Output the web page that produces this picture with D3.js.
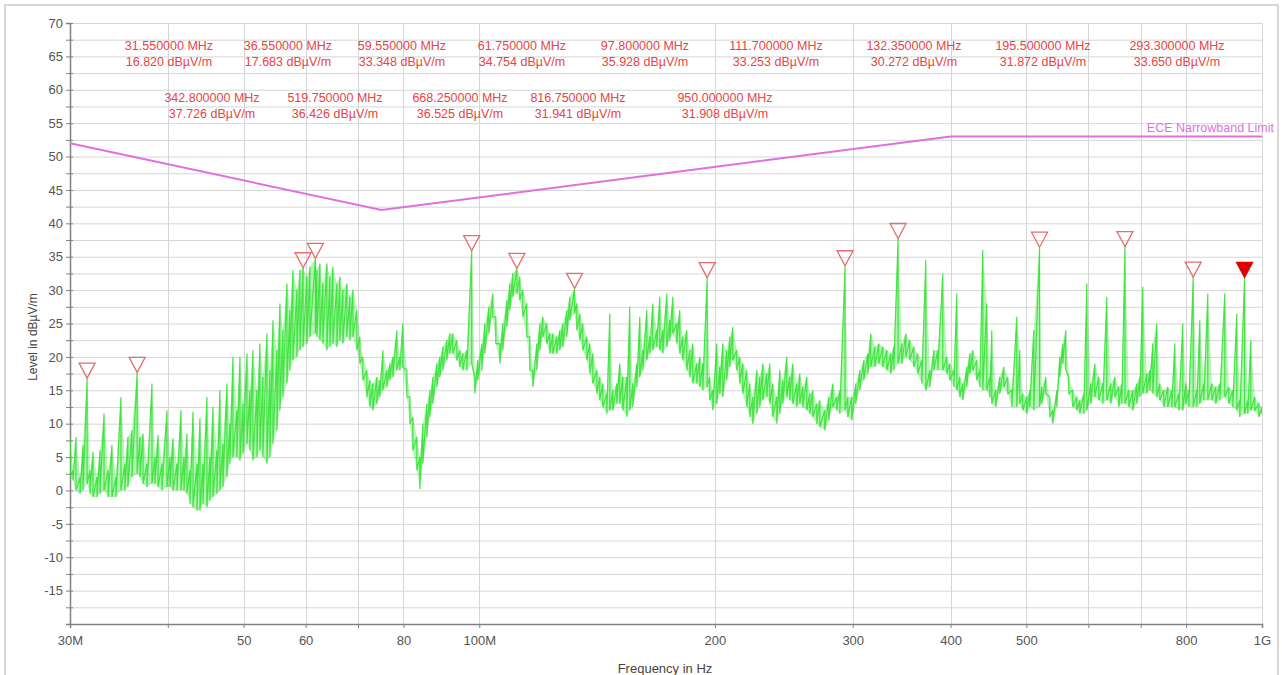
<!DOCTYPE html>
<html lang="en">
<head>
<meta charset="UTF-8">
<title>EMI Scan - ECE Narrowband</title>
<style>
  html, body { margin: 0; padding: 0; background: #fff; }
  svg { display: block; font-family: "Liberation Sans", Arial, sans-serif; }
</style>
</head>
<body>
<svg id="chart" width="1282" height="675"></svg>
<script src="https://d3js.org/d3.v7.min.js"></script>
<script>
// ---- data ----
// marker peaks (MHz, dBuV/m)
var markerMHz   = [31.55, 36.55, 59.55, 61.75, 97.8, 111.7, 132.35, 195.5, 293.3, 342.8, 519.75, 668.25, 816.75, 950.0];
var markerLevel = [16.820, 17.683, 33.348, 34.754, 35.928, 33.253, 30.272, 31.872, 33.650, 37.726, 36.426, 36.525, 31.941, 31.908];

// ECE narrowband limit corner points
var limitMHz   = [30, 75, 400, 1000];
var limitLevel = [52, 42, 53, 53];

// axis ticks
var xTickMHz   = [30, 40, 50, 60, 70, 80, 100, 200, 300, 400, 500, 600, 700, 800, 1000];
var xTickLabel = ['30M', '', '50', '60', '', '80', '100M', '200', '300', '400', '500', '', '', '800', '1G'];
var yTickLevel = [-20, -17.5, -15, -12.5, -10, -7.5, -5, -2.5, 0, 2.5, 5, 7.5, 10, 12.5, 15, 17.5, 20, 22.5, 25, 27.5,
                  30, 32.5, 35, 37.5, 40, 42.5, 45, 47.5, 50, 52.5, 55, 57.5, 60, 62.5, 65, 67.5, 70];

// measured trace: frequency, upper and lower value of each display bin
var traceMHz = [30.00, 30.27, 30.53, 30.90, 31.17, 31.55, 31.82, 32.10, 32.48, 32.77, 33.16, 33.56, 33.94, 34.34, 34.85, 35.26, 35.57, 36.00, 36.55, 36.86,
  37.19, 37.63, 38.18, 38.52, 38.87, 39.32, 39.90, 40.26, 40.62, 41.10, 41.58, 41.95, 42.32, 42.70, 43.08, 43.59, 43.97, 44.36, 44.88, 45.28,
  45.68, 46.22, 46.63, 47.04, 47.60, 48.02, 48.45, 49.02, 49.46, 49.90, 50.49, 50.93, 51.38, 51.99, 52.45, 52.91, 53.54, 54.02, 54.50, 55.14,
  55.63, 56.12, 56.79, 57.29, 57.80, 58.48, 59.00, 59.55, 60.23, 60.76, 61.75, 62.02, 62.57, 63.12, 63.87, 64.44, 65.01, 65.78, 66.36, 66.95,
  67.74, 68.34, 68.95, 69.76, 70.38, 71.00, 71.84, 72.48, 73.12, 73.99, 74.64, 75.30, 76.19, 76.87, 77.55, 78.47, 79.16, 79.86, 80.81, 81.53,
  82.25, 83.22, 83.96, 84.70, 85.71, 86.47, 87.24, 88.27, 89.05, 89.84, 90.90, 91.70, 92.51, 93.61, 94.44, 95.28, 96.40, 97.80, 98.70, 99.57,
  100.75, 101.64, 102.85, 104.06, 104.98, 106.23, 107.17, 108.44, 109.40, 110.37, 111.70, 112.66, 113.66, 115.00, 116.03, 117.06, 118.44, 119.49, 120.55, 121.98,
  123.05, 124.14, 125.61, 126.73, 127.85, 129.37, 130.51, 132.35, 133.23, 134.41, 135.60, 137.21, 138.42, 139.65, 141.30, 142.55, 143.81, 145.52, 146.81, 148.11,
  149.86, 151.19, 152.53, 154.34, 155.70, 157.08, 158.94, 160.35, 161.77, 163.69, 165.14, 166.60, 168.57, 170.07, 171.58, 173.61, 175.14, 176.69, 178.78, 180.37,
  181.97, 184.12, 185.76, 187.40, 189.62, 191.30, 193.00, 195.50, 197.01, 198.75, 201.10, 202.89, 204.69, 207.11, 208.95, 210.80, 213.29, 215.19, 217.10, 219.66,
  221.61, 223.57, 226.22, 228.23, 230.25, 232.97, 235.04, 237.12, 239.93, 242.06, 244.20, 247.09, 249.29, 251.50, 254.47, 256.73, 259.00, 262.07, 264.39, 266.73,
  269.89, 272.29, 276.32, 279.59, 282.90, 286.25, 288.79, 293.30, 295.66, 299.17, 302.70, 306.29, 309.92, 313.58, 316.36, 320.10, 323.89, 327.73, 331.60, 335.54,
  338.51, 342.80, 346.57, 350.67, 354.83, 359.03, 363.28, 367.58, 371.93, 376.33, 380.79, 385.30, 391.00, 395.63, 399.14, 403.87, 407.44, 411.05, 414.69, 419.60,
  423.32, 427.07, 432.13, 435.96, 439.82, 445.03, 448.98, 451.63, 457.01, 462.38, 467.85, 473.39, 479.00, 486.09, 490.40, 494.75, 500.61, 505.04, 511.02, 519.75,
  523.19, 529.38, 535.65, 540.40, 546.80, 551.64, 556.53, 561.46, 566.44, 573.14, 579.93, 585.08, 592.01, 597.27, 604.32, 611.47, 618.70, 626.03, 633.44, 640.94,
  648.53, 656.20, 662.03, 668.25, 675.78, 683.79, 691.88, 698.03, 704.22, 712.55, 718.87, 725.24, 733.83, 740.33, 749.10, 757.97, 766.93, 773.73, 782.89, 792.16,
  799.20, 806.27, 816.75, 825.48, 832.78, 842.64, 852.61, 862.71, 872.91, 883.25, 896.34, 906.92, 917.67, 928.53, 936.78, 950.00, 959.08, 967.59, 979.05, 990.63,
  1000];
var traceHi = [8, 3, 8, 2, 6.8, 16.8, 3, 5.8, 2, 6, 11.5, 3, 6.8, 2, 14, 4, 8, 9, 17.7, 8,
  8.5, 4, 16, 5, 8.3, 4, 12, 5, 7.8, 4, 12, 5, 8.5, 3, 11.8, 4, 10.8, 4, 14, 5,
  12.5, 6, 15, 7, 16, 10, 20, 12, 20, 13, 20.5, 15, 21, 15, 22, 17, 23.5, 18, 25.5, 21,
  28, 24, 31, 27, 33, 30, 33, 33.3, 32, 33.5, 34.75, 33, 34, 31, 34, 32, 33.5, 31, 32, 30,
  31, 29, 30, 27, 23, 20, 18, 16.5, 16, 17, 16.5, 21, 18, 19, 20, 24, 20, 25, 18, 14,
  11, 8, 5, 10, 13, 15, 17, 19, 20, 21.5, 22.5, 23.5, 23.5, 22.5, 21, 20.5, 21, 35.9, 17, 19.5,
  22, 25, 27.5, 29.5, 26, 22, 25, 28.5, 31, 32.5, 33.25, 32, 30, 28, 23, 18, 22, 25, 26, 25,
  23.5, 23.5, 23, 24, 25, 27, 29, 30.27, 28, 26.5, 25, 23, 22, 20.5, 18, 17, 16, 14.5, 26.5, 15,
  16, 19, 17, 17, 27.5, 16, 19, 26, 21, 27, 23, 28, 24, 29, 24, 29.5, 25.5, 29, 25, 27,
  23, 24, 21, 22, 19, 20, 19, 31.87, 17, 15, 22, 18.5, 22, 21, 23, 24.5, 21, 20, 19, 18,
  16, 14, 18, 17, 19, 17.5, 19, 16, 14, 18, 16.5, 20, 17, 19, 16, 17.5, 15.5, 17, 14.5, 15,
  13, 13.5, 12, 14, 16, 14, 15, 33.65, 14, 14, 16, 18, 19.5, 20.5, 23.5, 21.5, 22, 21.5, 21, 20.5,
  21.5, 37.73, 22, 23.5, 22.5, 21.5, 20.5, 19.5, 34.5, 18, 21, 21, 32.5, 20, 19, 18, 29.5, 17, 16, 18.5,
  20.5, 21, 19.5, 18, 36, 28, 17, 24, 15, 17, 18.5, 17, 15, 26, 21, 14.5, 14, 15, 24, 36.43,
  15.5, 17, 14, 12, 15, 20, 22, 24, 17, 15, 14, 13.5, 14.5, 31, 16, 19, 17, 16, 29, 16,
  17, 15.5, 16, 36.53, 15, 15, 16, 17, 30.5, 17.5, 18, 22, 25, 16, 15, 15.5, 15, 22, 14.5, 25,
  16, 15, 31.94, 15, 25.5, 16, 29.5, 16, 15.5, 16, 29.5, 15.5, 15, 26.5, 13.5, 31.91, 13.5, 22.5, 14, 13,
  12.5];
var traceLo = [2, 1.5, 0, -0.5, 0, 1, -0.5, -1, -1, -0.5, 0, -1, -1, -1, 0, 0, 0.5, 2, 2.5, 2,
  1, 0.5, 1, 1, 0.5, 0, 0.5, 0.5, 0, 0, 0, 0, -0.5, -2, -2.5, -3, -3, -2, -2.5, -1.5,
  -1, -0.5, 0, 0.5, 2, 4, 5, 5, 4.5, 5.5, 7, 6, 4.5, 5, 6, 5, 4, 5, 7, 9,
  12, 14, 16, 18, 19.5, 20, 21, 21.5, 22, 23, 23.5, 23, 22.5, 22, 21, 21.5, 22, 21.5, 22.5, 22,
  23, 22.5, 23, 21, 19, 16.5, 14, 12.5, 12, 13, 14, 15, 15.5, 16.5, 17, 18, 18, 18.5, 14, 10,
  6, 3, 0.2, 4, 8, 11, 13, 15.5, 17, 18, 19.5, 20.5, 20.5, 19.5, 18.5, 18, 18, 19, 14.5, 16.5,
  18, 20.5, 23.5, 26, 22, 19, 21, 24.5, 27, 29, 29.5, 28.5, 26, 23, 18, 15.5, 18, 21, 23, 22,
  20.5, 20.5, 20.5, 21, 21.5, 23, 25.5, 26.5, 24, 22.5, 21, 19.5, 17.5, 16, 14.5, 13.5, 12.5, 11.5, 12, 12,
  13, 13, 12, 11, 12, 12.5, 15.5, 17, 18, 19.5, 20.5, 21, 21.5, 21, 20.5, 21.5, 22.5, 23.5, 22, 20.5,
  19.5, 18, 17, 16, 16, 15.5, 15, 15.5, 13.5, 12, 13, 14.5, 14, 16.5, 18.5, 19.5, 18, 16, 14.5, 12.5,
  11, 10, 11.5, 12.5, 13.5, 14, 13, 11, 10, 11.5, 13, 14, 13.5, 13, 12.5, 13, 12.5, 12, 11.5, 11,
  10, 9.5, 9, 10.5, 12.5, 12, 11.5, 12, 11, 10.5, 13, 15, 16.5, 17.5, 18.5, 18.5, 19, 18.5, 18, 17.5,
  18, 19, 19, 20, 19.5, 18.5, 17.5, 16, 15, 15.5, 18, 18, 18, 17.5, 16.5, 15.5, 15, 14, 13.5, 15.5,
  17.5, 18, 16.5, 15.5, 15, 15, 14, 13, 12.5, 14.5, 15.5, 14.5, 12.5, 12.5, 13, 12, 11.5, 12.5, 12, 12.5,
  13, 14.5, 11, 10, 12.5, 17, 19, 18, 14.5, 12.5, 12, 11.5, 11.5, 12, 13, 14, 13.5, 13, 13.5, 13,
  14, 12.5, 13, 13, 12.5, 12, 13, 14, 14.5, 14.5, 15, 14.5, 14, 13.5, 12.5, 12.5, 12.5, 12.5, 12, 12,
  13, 12.5, 12.5, 12.5, 13, 13.5, 13.5, 13.5, 13, 13.5, 14, 13, 12.5, 12, 11, 11.5, 11.5, 12, 12, 11,
  11.5];

// ---- layout ----
var plotL = 70, plotR = 1262, plotT = 23, plotB = 624;
var row1X = [169, 288, 402, 522, 645, 776, 914, 1043, 1177];
var row2X = [212, 335, 460, 578, 725];
var red = '#e84444', limitColor = '#e070e0', green = '#2ee02e';
var fontFam = '"Liberation Sans", Arial, sans-serif';

var svg = d3.select('#chart');

// outer frame
svg.append('rect')
  .attr('x', 5).attr('y', 5).attr('width', 1273).attr('height', 680)
  .attr('fill', '#fff').attr('stroke', '#d8d8d8').attr('stroke-width', 2);

var x = d3.scaleLog().domain([30, 1000]).range([plotL, plotR]);
var y = d3.scaleLinear().domain([-20, 70]).range([plotB, plotT]);

// grid
var grid = svg.append('g').attr('stroke', '#d6d6d6').attr('stroke-width', 1);
grid.selectAll('.hg').data(yTickLevel).enter().append('line')
  .attr('x1', plotL).attr('x2', plotR)
  .attr('y1', function(d) { return y(d) + 0.5; })
  .attr('y2', function(d) { return y(d) + 0.5; });
grid.selectAll('.vg').data(xTickMHz.slice(1)).enter().append('line')
  .attr('y1', plotT).attr('y2', plotB)
  .attr('x1', function(d) { return Math.round(x(d)) + 0.5; })
  .attr('x2', function(d) { return Math.round(x(d)) + 0.5; });

// axes
var yAxis = svg.append('g')
  .attr('transform', 'translate(' + plotL + ',0)')
  .call(d3.axisLeft(y).tickValues(yTickLevel).tickSize(4).tickPadding(3)
    .tickFormat(function(d) { return (d % 5 === 0 && d > -20) ? d : ''; }));
var xAxis = svg.append('g')
  .attr('transform', 'translate(0,' + plotB + ')')
  .call(d3.axisBottom(x).tickValues(xTickMHz).tickSize(4).tickPadding(8)
    .tickFormat(function(d, i) { return xTickLabel[i]; }));
[yAxis, xAxis].forEach(function(a) {
  a.select('.domain').attr('stroke', '#808080').attr('stroke-width', 1.5);
  a.selectAll('.tick line').attr('stroke', '#808080');
  a.selectAll('.tick text').attr('fill', '#555').style('font-size', '13px').style('font-family', fontFam);
});
yAxis.selectAll('.tick line').attr('x1', 3);

svg.append('text')
  .attr('x', 665).attr('y', 673)
  .attr('text-anchor', 'middle').attr('fill', '#444').style('font-size', '13px')
  .text('Frequency in Hz');
svg.append('text')
  .attr('transform', 'translate(37,337) rotate(-90)')
  .attr('text-anchor', 'middle').attr('fill', '#444').style('font-size', '12px')
  .text('Level in dB\u00b5V/m');

// clip
svg.append('clipPath').attr('id', 'plotclip')
  .append('rect').attr('x', plotL).attr('y', plotT).attr('width', plotR - plotL).attr('height', plotB - plotT);

// trace body: light fill between lower and upper value of each bin
svg.append('path')
  .datum(traceMHz)
  .attr('clip-path', 'url(#plotclip)')
  .attr('fill', green).attr('fill-opacity', 0.35)
  .attr('d', d3.area()
    .x(function(d) { return x(d); })
    .y0(function(d, i) { return y(traceLo[i]); })
    .y1(function(d, i) { return y(traceHi[i]); }));

// trace, drawn as min/max detector zigzag
var tracePts = [];
traceMHz.forEach(function(f, i) {
  tracePts.push([f, traceHi[i]]);
  tracePts.push([f, traceLo[i]]);
});
svg.append('path')
  .datum(tracePts)
  .attr('clip-path', 'url(#plotclip)')
  .attr('fill', 'none')
  .attr('stroke', green)
  .attr('stroke-width', 1.2)
  .attr('stroke-opacity', 0.85)
  .attr('d', d3.line()
    .x(function(d) { return x(d[0]); })
    .y(function(d) { return y(d[1]); }));

// limit line
svg.append('path')
  .datum(limitLevel)
  .attr('fill', 'none').attr('stroke', limitColor).attr('stroke-width', 2)
  .attr('d', d3.line()
    .x(function(d, i) { return x(limitMHz[i]); })
    .y(function(d) { return y(d); }));
svg.append('text')
  .attr('x', 1274).attr('y', y(53) - 5)
  .attr('text-anchor', 'end').attr('fill', limitColor).style('font-size', '12.5px')
  .text('ECE Narrowband Limit');

// markers
svg.selectAll('.marker').data(markerMHz).enter().append('path')
  .attr('d', function(f, i) {
    var cx = x(f), cy = y(markerLevel[i]);
    return 'M' + cx + ',' + cy + 'L' + (cx - 8) + ',' + (cy - 15) + 'L' + (cx + 8) + ',' + (cy - 15) + 'Z';
  })
  .attr('fill', function(f, i) { return i === markerMHz.length - 1 ? '#e00000' : 'none'; })
  .attr('stroke', function(f, i) { return i === markerMHz.length - 1 ? '#e00000' : '#e07070'; })
  .attr('stroke-width', 1.3);

// marker readouts
var labels = svg.append('g').attr('fill', red).attr('text-anchor', 'middle').style('font-size', '12.5px');
markerMHz.forEach(function(f, i) {
  var cx = i < row1X.length ? row1X[i] : row2X[i - row1X.length];
  var top = i < row1X.length ? 50 : 102;
  labels.append('text').attr('x', cx).attr('y', top).text(f.toFixed(6) + ' MHz');
  labels.append('text').attr('x', cx).attr('y', top + 16).text(markerLevel[i].toFixed(3) + ' dB\u00b5V/m');
});
</script>
</body>
</html>
